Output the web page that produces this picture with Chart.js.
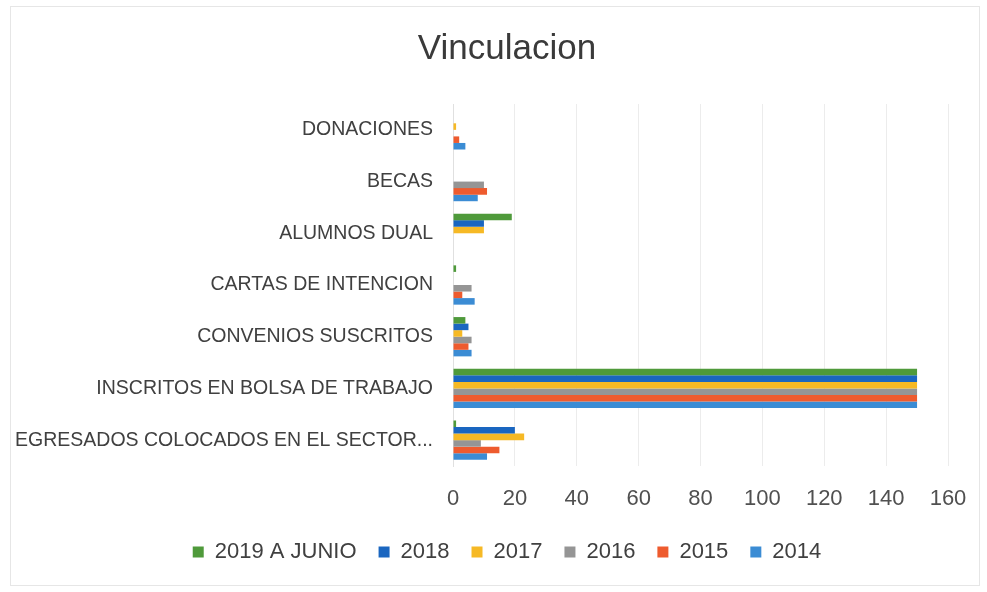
<!DOCTYPE html>
<html>
<head>
<meta charset="utf-8">
<script src="https://cdn.jsdelivr.net/npm/chart.js@4/dist/chart.umd.min.js"></script>
<style>
html,body{margin:0;padding:0;background:#fff;}
#wrap{position:absolute;left:0;top:0;width:987px;height:592px;}
#frame{position:absolute;left:10px;top:6px;width:968px;height:578px;border:1px solid #e6e6e6;pointer-events:none;}
</style>
</head>
<body>
<div id="wrap"><canvas id="c" width="987" height="592"></canvas><div id="frame"></div></div>
<script>
const categories = ["DONACIONES","BECAS","ALUMNOS DUAL","CARTAS DE INTENCION","CONVENIOS SUSCRITOS","INSCRITOS EN BOLSA DE TRABAJO","EGRESADOS COLOCADOS EN EL SECTOR..."];
const seriesNames = ["2019 A JUNIO","2018","2017","2016","2015","2014"];
const v2019 = [0, 0, 19, 1, 4, 150, 1];
const v2018 = [0, 0, 10, 0, 5, 150, 20];
const v2017 = [1, 0, 10, 0, 3, 150, 23];
const v2016 = [0, 10, 0, 6, 6, 150, 9];
const v2015 = [2, 11, 0, 3, 5, 150, 15];
const v2014 = [4, 8, 0, 7, 6, 150, 11];
const xTicks = [0,20,40,60,80,100,120,140,160];

const colors = ["#4f9a3b","#1a66c0","#f6b925","#959595","#ee5b2e","#3b8cd4"];
const values = [v2019,v2018,v2017,v2016,v2015,v2014];

const FONT = "'Liberation Sans', sans-serif";
const shiftPlugin = {
  id: 'shiftBlocks',
  afterLayout(chart) {
    const dx = 33;
    [chart.legend, chart.titleBlock].forEach(b => { if (b) { b.left += dx; b.right += dx; } });
  }
};
new Chart(document.getElementById('c'), {
  type: 'bar',
  data: {
    labels: categories,
    datasets: seriesNames.map((n,i)=>({label:n,data:values[i],backgroundColor:colors[i],borderWidth:0,categoryPercentage:0.76,barPercentage:1}))
  },
  plugins: [shiftPlugin],
  options: {
    indexAxis: 'y',
    responsive: false,
    animation: false,
    layout: {padding: {left: 0, right: 39, top: 0, bottom: 19}},
    plugins: {
      title: {display: true, text: 'Vinculacion', color: '#3a3a3a', font: {family: FONT, size: 35, weight: 'normal'}, padding: {top: 28, bottom: 34}},
      legend: {position: 'bottom', labels: {color: '#404040', font: {family: FONT, size: 22}, boxWidth: 11, boxHeight: 11, padding: 22}},
      tooltip: {enabled: false}
    },
    scales: {
      x: {
        min: 0, max: 160,
        afterBuildTicks: s => { s.ticks = xTicks.map(v=>({value:v})); },
        afterFit: s => { s.height = 53; },
        grid: {color: '#ececec', drawTicks: false},
        border: {display: false},
        ticks: {color: '#505050', font: {family: FONT, size: 22}, padding: 20}
      },
      y: {
        afterFit: s => { s.width = 453; },
        grid: {display: false, drawTicks: false},
        border: {display: true, color: '#e0e0e0'},
        ticks: {color: '#404040', font: {family: FONT, size: 19.5}, padding: 20, autoSkip: false}
      }
    }
  }
});
</script>
</body>
</html>
